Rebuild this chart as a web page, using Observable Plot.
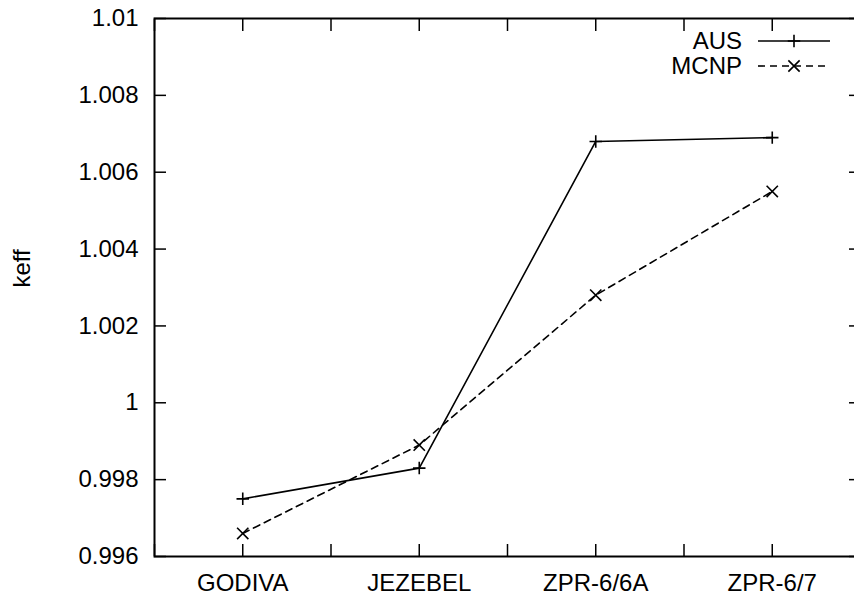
<!DOCTYPE html>
<html>
<head>
<meta charset="utf-8">
<script src="https://cdn.jsdelivr.net/npm/d3@7"></script>
<script src="https://cdn.jsdelivr.net/npm/@observablehq/plot@0.6"></script>
<style>
  html, body { margin: 0; padding: 0; background: white; overflow: hidden; }
  #chart { position: relative; width: 854px; height: 598px; overflow: hidden; }
  #chart svg { max-width: none !important; }
  #legend { position: absolute; left: 0; top: 0; pointer-events: none; }
</style>
</head>
<body>
<div id="chart"></div>
<script>
const categories = ["GODIVA", "JEZEBEL", "ZPR-6/6A", "ZPR-6/7"];
const ausValues = [0.9975, 0.9983, 1.0068, 1.0069];
const mcnpValues = [0.9966, 0.9989, 1.0028, 1.0055];
const yTickValues = [0.996, 0.998, 1, 1.002, 1.004, 1.006, 1.008, 1.01];
const xTickValues = [0.5, 1, 1.5, 2, 2.5, 3, 3.5, 4, 4.5];
const seriesNames = ["AUS", "MCNP"];

const table = categories.map((c, i) => ({ x: i + 1, name: c, aus: ausValues[i], mcnp: mcnpValues[i] }));
const fmtY = d => String(+d.toFixed(3));

const font = "'Liberation Sans', Arial, Helvetica, sans-serif";
const fs = 24;

const plot = Plot.plot({
  width: 870,
  height: 598,
  marginLeft: 154,
  marginRight: 10,
  marginTop: 18,
  marginBottom: 42,
  style: { fontFamily: font, fontSize: fs + "px", color: "black", background: "white", maxWidth: "none" },
  x: { domain: [0.5, 4.5] },
  y: { domain: [0.996, 1.01] },
  marks: [
    Plot.frame({ stroke: "black", strokeWidth: 2 }),
    Plot.axisX({ anchor: "bottom", ticks: xTickValues, tickSize: -12, tickFormat: () => "", strokeWidth: 1.5, label: null }),
    Plot.axisX({ anchor: "top", ticks: xTickValues, tickSize: -12, tickFormat: () => "", strokeWidth: 1.5, label: null }),
    Plot.axisX({ anchor: "bottom", ticks: [1, 2, 3, 4], tickSize: 0, tickPadding: 17, tickFormat: d => categories[d - 1], label: null }),
    Plot.axisY({ anchor: "left", ticks: yTickValues, tickSize: -12, tickFormat: () => "", strokeWidth: 1.5, label: null }),
    Plot.axisY({ anchor: "right", ticks: yTickValues, tickSize: -12, tickFormat: () => "", strokeWidth: 1.5, label: null }),
    Plot.axisY({ anchor: "left", ticks: yTickValues, tickSize: 0, tickPadding: 16, tickFormat: fmtY, label: null }),
    Plot.text(["keff"], { frameAnchor: "left", rotate: -90, dx: -132, fontSize: fs, fill: "black" }),
    Plot.line(table, { x: "x", y: "aus", stroke: "black", strokeWidth: 1.6 }),
    Plot.line(table, { x: "x", y: "mcnp", stroke: "black", strokeWidth: 1.6, strokeDasharray: "7,5" }),
    Plot.dot(table, { x: "x", y: "aus", symbol: "plus", r: 4.1, stroke: "black", strokeWidth: 1.6 }),
    Plot.dot(table, { x: "x", y: "mcnp", symbol: "times", r: 5.2, stroke: "black", strokeWidth: 1.6 })
  ]
});
document.getElementById("chart").appendChild(plot);

// Legend (top-right inside the frame) as a transparent overlay svg
const legendSvg = d3.select("#chart").append("svg").attr("id", "legend")
  .attr("width", 854).attr("height", 100);
const legend = legendSvg.append("g").attr("font-family", font).attr("font-size", fs).attr("fill", "black");
const styles = [
  { dash: null, symbol: d3.symbolPlus, r: 4.1 },
  { dash: "7,5", symbol: d3.symbolTimes, r: 5.2 }
];
seriesNames.forEach((name, i) => {
  const cy = 41 + i * 25;
  legend.append("text").attr("x", 742).attr("y", cy).attr("dy", "0.35em").attr("text-anchor", "end").text(name);
  const ln = legend.append("line").attr("x1", 758).attr("x2", 830).attr("y1", cy).attr("y2", cy)
    .attr("stroke", "black").attr("stroke-width", 1.6);
  if (styles[i].dash) ln.attr("stroke-dasharray", styles[i].dash);
  legend.append("path").attr("transform", `translate(794,${cy})`)
    .attr("d", d3.symbol(styles[i].symbol, Math.PI * styles[i].r * styles[i].r)())
    .attr("fill", "none").attr("stroke", "black").attr("stroke-width", 1.6);
});
</script>
</body>
</html>
